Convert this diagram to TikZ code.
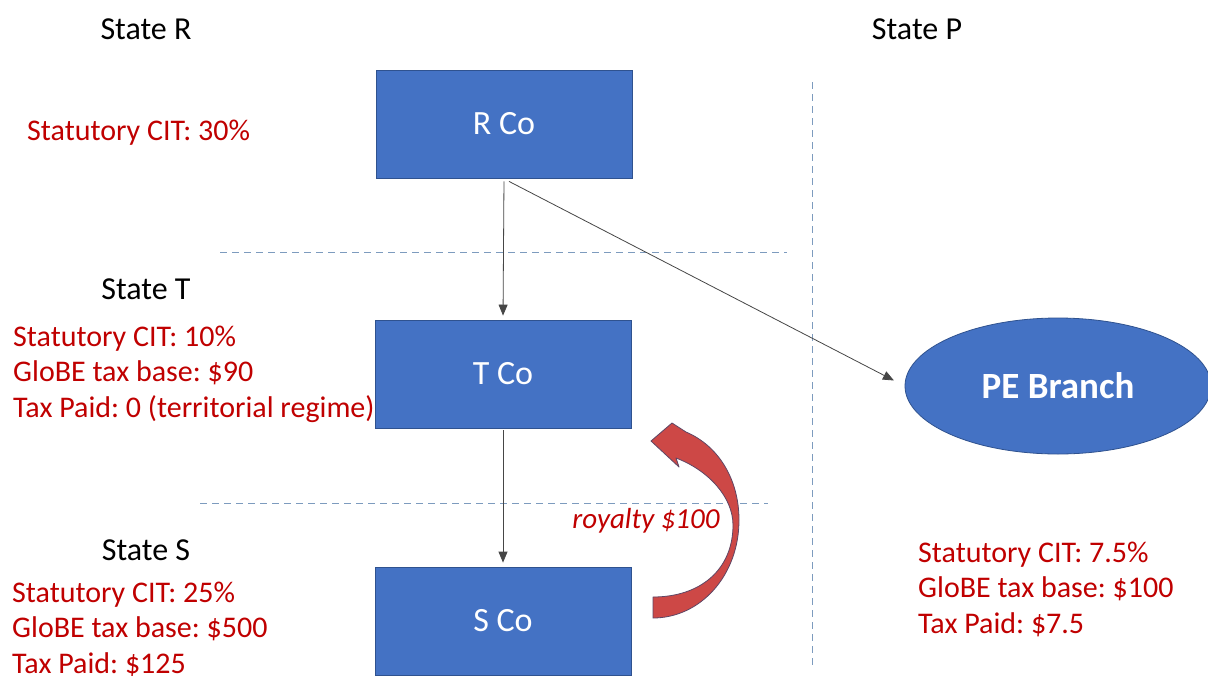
\documentclass[tikz,border=0pt]{standalone}
\usepackage{fontspec}
\setmainfont{Carlito}
\usetikzlibrary{arrows.meta,shapes.geometric,calc}
\definecolor{boxblue}{RGB}{68,114,196}
\definecolor{boxedge}{RGB}{47,82,143}
\definecolor{txtred}{RGB}{192,0,0}
\definecolor{dashc}{RGB}{125,155,190}
\definecolor{arrred}{RGB}{205,72,70}
\definecolor{arredge}{RGB}{95,70,100}
\definecolor{conn}{RGB}{70,70,70}
\tikzset{
  cobox/.style={draw=boxedge, line width=0.8pt, fill=boxblue, minimum width=256pt, minimum height=108pt, inner sep=0pt, text=white, font=\fontsize{34}{40}\selectfont},
  statelbl/.style={font=\fontsize{32}{38}\selectfont, text=black, inner sep=0pt},
  redtxt/.style={font=\fontsize{30}{35.5}\selectfont, text=txtred, align=left, inner sep=0pt, anchor=west},
  sep/.style={draw=dashc, dash pattern=on 7pt off 5pt, line width=0.8pt},
  own/.style={draw=conn, line width=0.8pt, -{Triangle[length=11pt,width=9pt]}},
}
\begin{document}
\frenchspacing
\begin{tikzpicture}[x=1pt,y=-1pt]
\useasboundingbox (0,0) rectangle (1208,675);
\fill[white] (0,0) rectangle (1208,675);
% separators
\draw[sep] (220,252) -- (787,252);
\draw[sep] (200,503) -- (768,503);
\draw[sep] (812,82) -- (812,665);
% state labels
\node[statelbl] (sr) at (146,29) {State R};
\node[statelbl] (sp) at (917,29) {State P};
\node[statelbl] (st) at (146,289) {State T};
\node[statelbl] (ss) at (146,550) {State S};
% boxes
\node[cobox] (rco) at (504,124) {R Co};
\node[cobox] (tco) at (503,374) {T Co};
\node[cobox] (sco) at (503,621) {S Co};
\node[ellipse, draw=boxedge, line width=0.8pt, fill=boxblue, minimum width=306pt, minimum height=136pt, inner sep=0pt, text=white, font=\fontsize{37}{42}\bfseries\selectfont] (pe) at (1058,386) {PE Branch};
% red texts
\node[redtxt] (rtxt) at (27,133) {Statutory CIT: 30\%};
\node[redtxt] (ttxt) at (13,374) {Statutory CIT: 10\%\\GloBE tax base: \$90\\Tax Paid: 0 (territorial regime)};
\node[redtxt] (stxt) at (12,629) {Statutory CIT: 25\%\\GloBE tax base: \$500\\Tax Paid: \$125};
\node[redtxt] (ptxt) at (918,589) {Statutory CIT: 7.5\%\\GloBE tax base: \$100\\Tax Paid: \$7.5};
% connectors
\coordinate (rstart) at ($(rco.south)+(5,3)$);
\draw[own, shorten <=3pt, shorten >=4pt] (rco.south) -- (tco.north);
\draw[own, shorten <=2pt, shorten >=4pt] (tco.south) -- (sco.north);
\draw[own, shorten >=12pt] (rstart) -- (pe.west);
% curved royalty arrow
\draw[fill=arrred, draw=arredge, line width=0.8pt, line join=round]
  (653,618) -- (653,597)
  .. controls (700,597) and (733,570) .. (733,525)
  .. controls (733,497) and (708,470) .. (676,458)
  -- (679,467) -- (651,441) -- (672,423) -- (686,432)
  .. controls (719,446) and (739,480) .. (739,520)
  .. controls (739,576) and (700,618) .. (653,618) -- cycle;
\node[font=\fontsize{29}{34}\itshape\selectfont, text=txtred, inner sep=0pt] (roy) at (646,521) {royalty \$100};
\end{tikzpicture}
\end{document}
